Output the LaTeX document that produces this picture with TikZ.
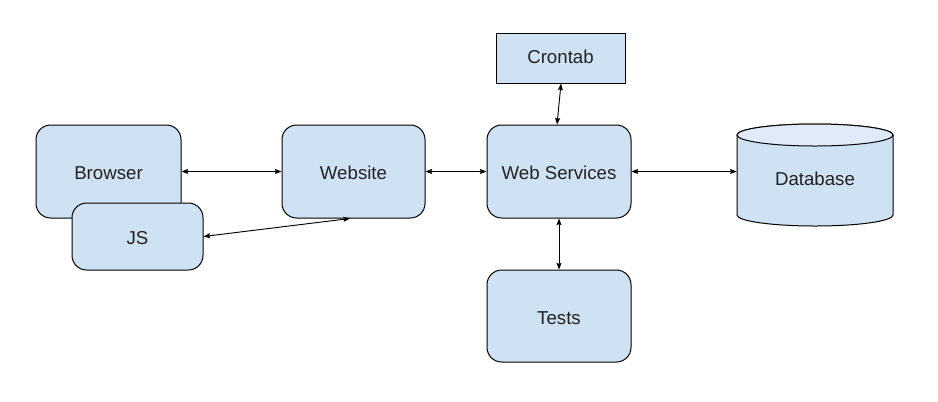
\documentclass[tikz,border=0pt]{standalone}
\usepackage{fontspec}
\setmainfont{Liberation Sans}
\usetikzlibrary{arrows.meta}
\definecolor{boxfill}{HTML}{CFE2F3}
\definecolor{topfill}{HTML}{E0EBF7}
\definecolor{txt}{HTML}{222222}
\tikzset{
  box/.style={draw=black, line width=0.75pt, fill=boxfill, rounded corners=11pt, inner sep=0pt, text=txt, font=\fontsize{14}{16}\selectfont, text height=12pt, text depth=0pt},
  sqbox/.style={draw=black, line width=0.75pt, fill=boxfill, inner sep=0pt, text=txt, font=\fontsize{14}{16}\selectfont, text height=8.5pt, text depth=1pt},
  lbl/.style={inner sep=0pt, text=txt, font=\fontsize{14}{16}\selectfont, text height=12pt, text depth=0pt},
  conn/.style={line width=0.7pt, {Stealth[length=5pt,width=3.8pt,inset=0.8pt]}-{Stealth[length=5pt,width=3.8pt,inset=0.8pt]}}
}
\begin{document}
\begin{tikzpicture}[x=0.75pt,y=0.75pt]
\useasboundingbox (0,0) rectangle (938,-401);
\fill[white] (0,0) rectangle (938,-401);
% nodes
\node[box, minimum width=145*0.75pt, minimum height=93*0.75pt] (browser) at (108.5,-171.5) {Browser};
\node[box, minimum width=131*0.75pt, minimum height=67*0.75pt] (js) at (137.5,-236.5) {JS};
\node[box, minimum width=143*0.75pt, minimum height=93*0.75pt] (website) at (353.5,-171.5) {Website};
\node[box, minimum width=144*0.75pt, minimum height=93*0.75pt] (ws) at (559,-171.5) {Web Services};
\node[sqbox, minimum width=129*0.75pt, minimum height=50*0.75pt] (crontab) at (560.5,-58) {Crontab};
\node[box, minimum width=144*0.75pt, minimum height=92*0.75pt] (tests) at (559,-316) {Tests};
% database cylinder
\path[draw=black, line width=0.75pt, fill=boxfill]
  (737,-135) -- (737,-215)
  arc[start angle=180, end angle=360, x radius=78, y radius=11]
  -- (893,-135)
  arc[start angle=0, end angle=180, x radius=78, y radius=11] -- cycle;
\path[draw=black, line width=0.75pt, fill=topfill] (815,-135) ellipse[x radius=78, y radius=11];
\node[lbl, minimum width=156*0.75pt] (db) at (815,-177.5) {Database};
% connectors
\draw[conn] (browser.east) -- (website.west);
\draw[conn] (website.east) -- (ws.west);
\draw[conn] (ws.east) -- ([yshift=4.5pt]db.west);
\draw[conn] ([xshift=0.4pt]crontab.south) -- ([xshift=-1.5pt]ws.north);
\draw[conn] (ws.south) -- (tests.north);
\draw[conn] (js.east) -- ([xshift=-2.6pt]website.south);
\end{tikzpicture}
\end{document}
